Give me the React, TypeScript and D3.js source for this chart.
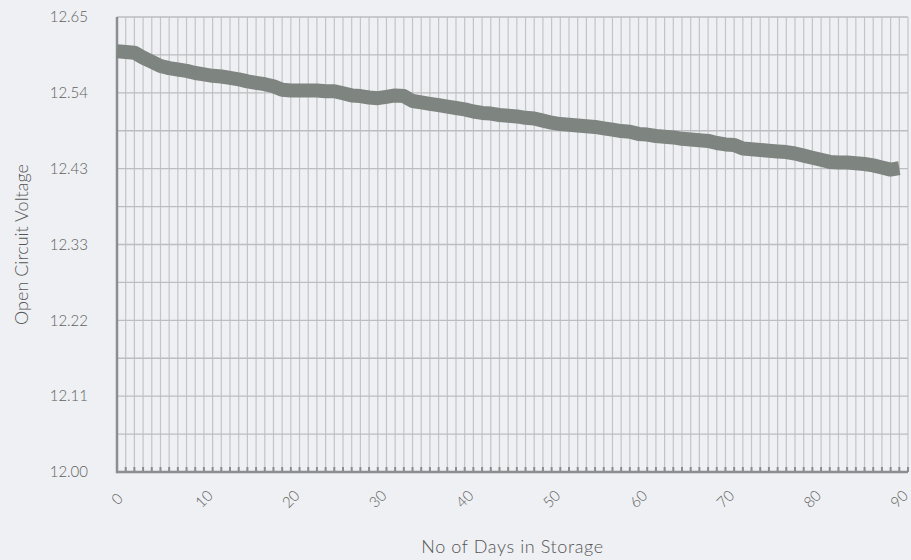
import React, { useEffect, useRef } from 'react';
import * as d3 from 'd3';

// days 0..90 in storage
const days = d3.range(0, 91);

// open circuit voltage
const voltage = [
  12.601, 12.600, 12.599, 12.592, 12.586, 12.580, 12.577, 12.575, 12.573, 12.570,
  12.568, 12.566, 12.565, 12.563, 12.561, 12.558, 12.556, 12.554, 12.551, 12.546,
  12.545, 12.545, 12.545, 12.545, 12.544, 12.544, 12.541, 12.538, 12.537, 12.535,
  12.534, 12.536, 12.538, 12.537, 12.530, 12.528, 12.526, 12.524, 12.522, 12.520,
  12.518, 12.515, 12.513, 12.512, 12.510, 12.509, 12.508, 12.506, 12.505, 12.502,
  12.499, 12.497, 12.496, 12.495, 12.494, 12.493, 12.491, 12.489, 12.487, 12.486,
  12.483, 12.482, 12.480, 12.479, 12.478, 12.476, 12.475, 12.474, 12.473, 12.470,
  12.468, 12.467, 12.462, 12.461, 12.460, 12.459, 12.458, 12.457, 12.455, 12.452,
  12.449, 12.446, 12.443, 12.442, 12.442, 12.441, 12.440, 12.438, 12.435, 12.432,
  12.434
];

const yTicks = d3.range(0, 7).map(i => 12 + i * 0.65 / 6);
const yGrid = d3.range(0, 13).map(i => 12 + i * 0.65 / 12);
const xLabels = d3.range(0, 91, 10);

export default function App() {
  const ref = useRef<SVGSVGElement>(null);

  useEffect(() => {
    const W = 911, H = 560;
    const margin = { left: 117, right: 3, top: 17, bottom: 88 };
    const width = W - margin.left - margin.right;
    const height = H - margin.top - margin.bottom;
    const font = 'Lato, sans-serif';

    const svg = d3.select(ref.current);
    svg.selectAll('*').remove();

    svg.append('rect').attr('width', W).attr('height', H).attr('fill', '#eef0f3');

    const x = d3.scaleLinear().domain([0, 91]).range([0, width]);
    const y = d3.scaleLinear().domain([12, 12.65]).range([height, 0]);

    const g = svg.append('g').attr('transform', `translate(${margin.left},${margin.top})`);

    // grid
    g.selectAll('.vgrid').data(d3.range(1, 92)).enter().append('line')
      .attr('x1', d => x(d)).attr('x2', d => x(d))
      .attr('y1', 0).attr('y2', height)
      .attr('stroke', '#c3c4c6').attr('stroke-width', 1.2);

    g.selectAll('.hgrid').data(yGrid).enter().append('line')
      .attr('x1', 0).attr('x2', width)
      .attr('y1', d => y(d)).attr('y2', d => y(d))
      .attr('stroke', '#bcbdbf').attr('stroke-width', 1.4);

    // inner ticks on x axis
    g.selectAll('.xtick').data(d3.range(1, 92)).enter().append('line')
      .attr('x1', d => x(d)).attr('x2', d => x(d))
      .attr('y1', height - 5).attr('y2', height)
      .attr('stroke', '#8c8d8e').attr('stroke-width', 2);

    // axis lines
    g.append('line').attr('x1', 0).attr('x2', width).attr('y1', height).attr('y2', height)
      .attr('stroke', '#8c8d8e').attr('stroke-width', 2.5);
    g.append('line').attr('x1', 0).attr('x2', 0).attr('y1', 0).attr('y2', height + 1.2)
      .attr('stroke', '#8c8d8e').attr('stroke-width', 2.5);

    // y labels
    g.selectAll('.ylab').data(yTicks).enter().append('text')
      .attr('x', -29).attr('y', d => y(d)).attr('dy', '0.35em')
      .attr('text-anchor', 'end')
      .style('font-family', font).style('font-weight', 300)
      .style('font-size', '15px').attr('fill', '#606060')
      .text(d => (d + 1e-9).toFixed(2));

    // x labels, rotated
    g.selectAll('.xlab').data(xLabels).enter().append('text')
      .attr('transform', d => `translate(${x(d)},${height + 27}) rotate(-45)`)
      .attr('text-anchor', 'middle').attr('dy', '0.35em')
      .style('font-family', font).style('font-weight', 300)
      .style('font-size', '15px').attr('fill', '#606060')
      .text(d => d);

    // the line
    const line = d3.line<number>()
      .x((d, i) => x(days[i]))
      .y(d => y(d));

    g.append('path').datum(voltage)
      .attr('d', line)
      .attr('fill', 'none')
      .attr('stroke', '#7e847f')
      .attr('stroke-width', 14)
      .attr('stroke-linejoin', 'round');

    // axis titles
    svg.append('text')
      .attr('x', margin.left + width / 2).attr('y', 553)
      .attr('text-anchor', 'middle')
      .style('font-family', font).style('font-weight', 300)
      .style('font-size', '18px').style('letter-spacing', '0.6px').attr('fill', '#555')
      .text('No of Days in Storage');

    svg.append('text')
      .attr('transform', `translate(28,${margin.top + height / 2}) rotate(-90)`)
      .attr('text-anchor', 'middle')
      .style('font-family', font).style('font-weight', 300)
      .style('font-size', '18px').attr('fill', '#555')
      .text('Open Circuit Voltage');
  }, []);

  return (
    <svg ref={ref} width={911} height={560} style={{ position: 'absolute', left: 0, top: 0 }} />
  );
}
